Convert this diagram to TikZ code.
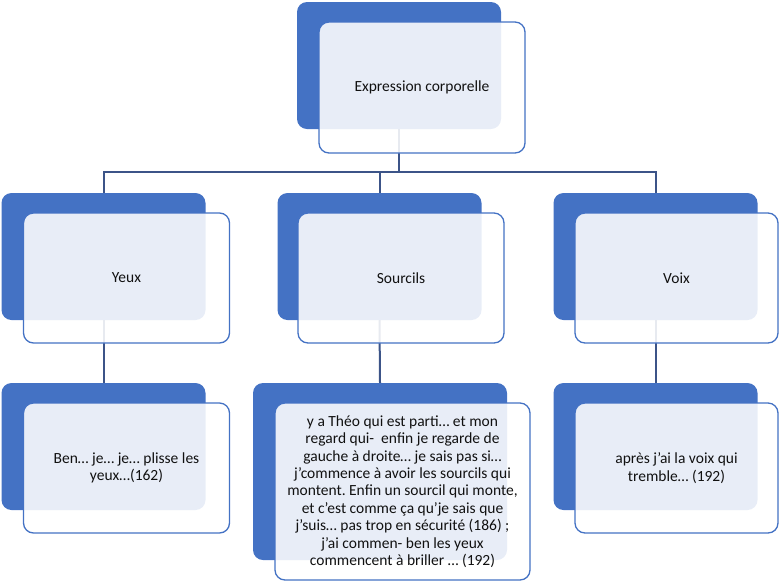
\documentclass[tikz,border=0pt]{standalone}
\usepackage{fontspec}
\setmainfont{Carlito}
\frenchspacing
\definecolor{accent}{HTML}{4472C4}
\definecolor{connc}{HTML}{3C5488}
\definecolor{txt}{HTML}{111111}
\begin{document}
\begin{tikzpicture}[x=1pt,y=-1pt,
  backbox/.style={rectangle, rounded corners=10pt, fill=accent, draw=none, inner sep=0pt},
  frontbox/.style={rectangle, rounded corners=10pt, draw=accent, line width=1.3pt, fill=white, fill opacity=0.88, text opacity=1, text=txt, inner sep=0pt, align=center, font=\fontsize{15.5}{17.4}\selectfont},
  conn/.style={draw=connc, line width=2pt}]
\useasboundingbox (0,0) rectangle (779,582);
% back boxes
\node[backbox, minimum width=204pt, minimum height=127pt] (b0) at (399,65.5) {};
\node[backbox, minimum width=204pt, minimum height=127pt] (b1) at (103.5,256.5) {};
\node[backbox, minimum width=204pt, minimum height=127pt] (b2) at (379.5,256.5) {};
\node[backbox, minimum width=204pt, minimum height=127pt] (b3) at (655.5,256.5) {};
\node[backbox, minimum width=204pt, minimum height=127pt] (c1) at (103.5,446.5) {};
\node[backbox, minimum width=254pt, minimum height=177pt] (c2) at (380,471.5) {};
\node[backbox, minimum width=204pt, minimum height=127pt] (c3) at (655.5,446.5) {};
% connectors
\coordinate (bus) at (399,172);
\draw[conn] (b0.south) -- (bus) -| (b1.north);
\draw[conn] (bus) -| (b2.north);
\draw[conn] (bus) -| (b3.north);
\draw[conn] (b1.south) -- (c1.north);
\draw[conn] (b2.south) -- (c2.north);
\draw[conn] (b3.south) -- (c3.north);
% front boxes
\node[frontbox, minimum width=206pt, minimum height=131pt] (f0) at (422,87.5) {Expression corporelle};
\node[frontbox, minimum width=206pt, minimum height=130pt] (f1) at (126.5,278) {Yeux};
\node[frontbox, minimum width=206pt, minimum height=130pt] (f2) at (401,278) {Sourcils};
\node[frontbox, minimum width=203pt, minimum height=130pt] (f3) at (676.5,278) {Voix};
\node[frontbox, minimum width=206pt, minimum height=130pt] (g1) at (126.5,468) {Ben… je… je… plisse les\\yeux…(162)};
\node[frontbox, minimum width=255pt, minimum height=177pt] (g2) at (402.5,491.5) {y a Théo qui est parti… et mon\\regard qui-~ enfin je regarde de\\gauche à droite… je sais pas si…\\j’commence à avoir les sourcils qui\\montent. Enfin un sourcil qui monte,\\et c’est comme ça qu’je sais que\\j’suis… pas trop en sécurité (186) ;\\j’ai commen- ben les yeux\\commencent à briller … (192)};
\node[frontbox, minimum width=203pt, minimum height=130pt] (g3) at (676.5,468) {après j’ai la voix qui\\tremble… (192)};
\end{tikzpicture}
\end{document}
